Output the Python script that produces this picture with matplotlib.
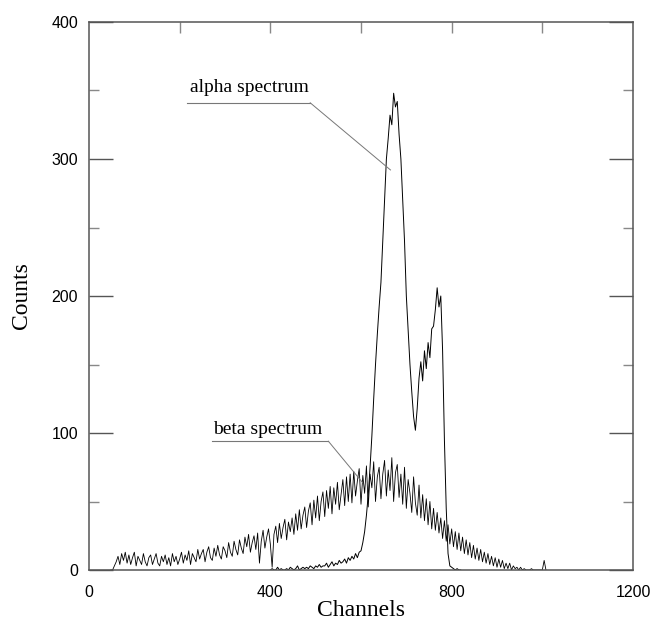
import matplotlib
matplotlib.use("Agg")
import matplotlib.pyplot as plt
from matplotlib.ticker import MultipleLocator, FixedLocator

# ---------------- data ----------------
beta_start, beta_step = 48, 4
beta_counts = [
    0, 0, 3, 6, 10, 4, 12, 7, 13, 5,
    11, 4, 9, 13, 3, 10, 7, 4, 12, 6,
    3, 9, 11, 4, 8, 12, 5, 3, 10, 6,
    11, 4, 9, 3, 12, 6, 10, 4, 8, 13,
    5, 11, 7, 14, 4, 12, 9, 6, 15, 8,
    12, 15, 6, 13, 17, 9, 7, 16, 10, 18,
    11, 8, 17, 14, 9, 20, 13, 10, 21, 15,
    11, 22, 16, 12, 24, 17, 26, 13, 20, 25,
    15, 27, 5, 21, 29, 16, 24, 30, 19, 2,
    26, 32, 20, 34, 23, 31, 37, 22, 35, 28,
    38, 26, 41, 29, 44, 30, 40, 46, 31, 43,
    49, 33, 51, 38, 54, 36, 50, 57, 39, 58,
    45, 61, 41, 60, 48, 64, 44, 55, 66, 47,
    68, 50, 70, 49, 72, 54, 65, 74, 48, 69,
    56, 76, 46, 70, 60, 79, 50, 68, 75, 52,
    70, 80, 54, 73, 58, 82, 50, 71, 77, 53,
    70, 48, 75, 45, 66, 56, 42, 68, 49, 40,
    62, 38, 55, 36, 52, 33, 50, 30, 45, 29,
    42, 27, 38, 23, 36, 21, 33, 19, 30, 17,
    28, 15, 27, 14, 24, 12, 22, 11, 20, 9,
    18, 8, 16, 7, 15, 6, 13, 5, 12, 4,
    10, 3, 9, 2, 8, 2, 7, 1, 5, 1,
    5, 0, 3, 1, 2, 0, 2, 0, 1, 0,
    0, 0, 1, 0, 0, 0, 0, 0, 0, 7,
    0,
]

alpha_start, alpha_step = 400, 4
alpha_counts = [
    0, 1, 0, 0, 2, 0, 1, 0, 0, 1,
    0, 2, 1, 0, 1, 3, 0, 1, 2, 1,
    2, 1, 3, 2, 1, 3, 2, 4, 2, 3,
    3, 5, 2, 4, 6, 3, 5, 4, 7, 5,
    6, 8, 5, 9, 7, 10, 8, 12, 9, 13,
    14, 20, 28, 40, 55, 75, 98, 125, 150, 172,
    192, 210, 240, 270, 300, 315, 332, 325, 348, 338,
    342, 318, 300, 270, 240, 200, 175, 150, 130, 112,
    102, 118, 140, 152, 138, 160, 147, 166, 155, 176,
    178, 190, 206, 192, 200, 160, 95, 45, 12, 3,
    2, 1, 0, 1, 0, 0,
]

beta_ch = [beta_start + i * beta_step for i in range(len(beta_counts))]
alpha_ch = [alpha_start + i * alpha_step for i in range(len(alpha_counts))]

x_ticks = [0, 400, 800, 1200]
y_ticks = [0, 100, 200, 300, 400]

# ---------------- figure ----------------
fig = plt.figure(figsize=(6.53, 6.23), dpi=100)
ax = fig.add_axes([89 / 653, 1 - 570 / 623, (633 - 89) / 653, (570 - 22) / 623])

ax.plot(beta_ch, beta_counts, color="black", lw=0.6)
ax.plot(alpha_ch, alpha_counts, color="black", lw=0.7)

ax.set_xlim(0, 1200)
ax.set_ylim(0, 400)

spine_col = "#555555"
for s in ax.spines.values():
    s.set_color(spine_col)
    s.set_linewidth(1.1)

tick_font = dict(family="Liberation Sans", size=11.5)
ax.set_xticks(x_ticks)
ax.set_yticks(y_ticks)
ax.set_xticklabels([str(v) for v in x_ticks], fontdict=tick_font)
ax.set_yticklabels([str(v) for v in y_ticks], fontdict=tick_font)
ax.yaxis.set_minor_locator(MultipleLocator(50))

ax.tick_params(axis="x", which="major", bottom=True, top=False, length=0, pad=11)
ax.tick_params(axis="y", which="major", left=True, right=True, direction="in",
               length=17, width=1.0, color=spine_col, pad=8)
ax.tick_params(axis="y", which="minor", left=True, right=True, direction="in",
               length=7, width=1.0, color="#888888")

top = ax.secondary_xaxis("top")
top.xaxis.set_major_locator(FixedLocator([200, 400, 600, 800, 1000]))
top.tick_params(direction="in", length=8, width=1.0, color="#888888", labeltop=False)
top.spines["top"].set_visible(False)

label_font = dict(family="Liberation Serif", size=17)
ax.set_xlabel("Channels", fontdict=label_font, labelpad=0)
ax.set_ylabel("Counts", fontdict=label_font, labelpad=14)

# ---------------- annotations ----------------
ann_font = dict(family="Liberation Serif", size=14)
ax.text(223, 346, "alpha spectrum", fontdict=ann_font, ha="left", va="bottom")
ax.plot([217, 488], [341, 341], color="#777777", lw=0.8)
ax.plot([488, 665], [341, 292], color="#777777", lw=0.7)

ax.text(273, 96, "beta spectrum", fontdict=ann_font, ha="left", va="bottom")
ax.plot([272, 528], [94, 94], color="#777777", lw=0.8)
ax.plot([528, 603], [94, 64], color="#777777", lw=0.7)

fig.savefig("out.png", dpi=100)
